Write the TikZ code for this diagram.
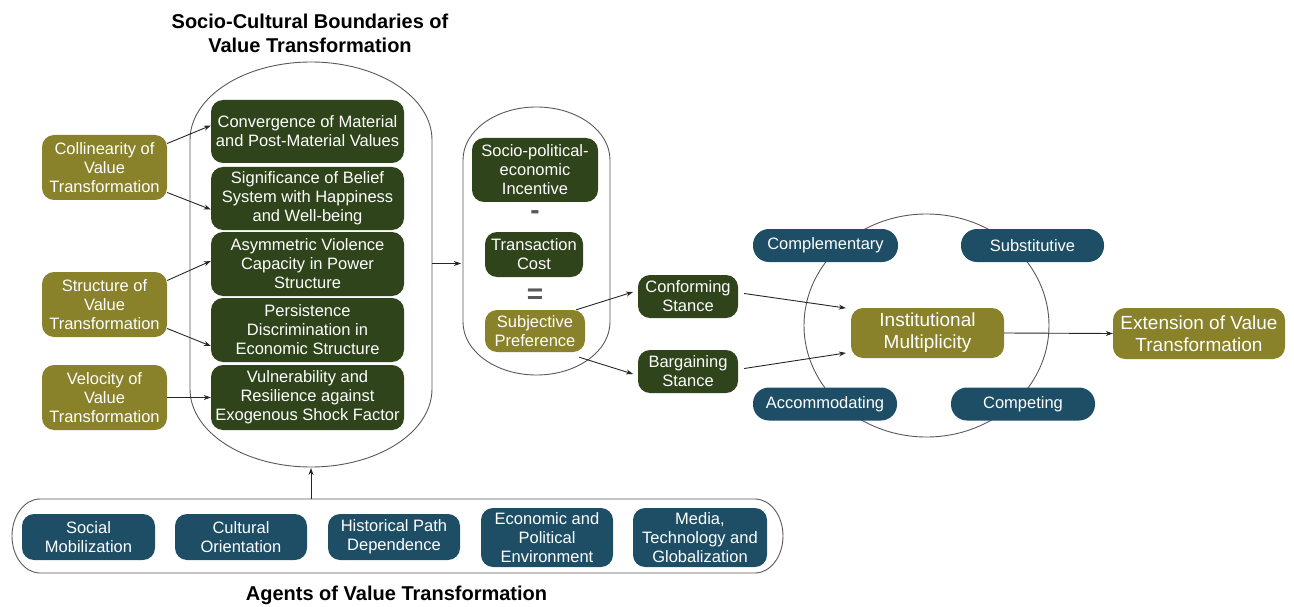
\documentclass[tikz,border=0pt]{standalone}
\usepackage{fontspec}
\setmainfont{Liberation Sans}
\usetikzlibrary{arrows.meta}
\definecolor{dgreen}{RGB}{47,68,26}
\definecolor{olivebox}{RGB}{138,130,42}
\definecolor{dblue}{RGB}{29,78,102}
\begin{document}
\begin{tikzpicture}[x=1pt,y=-1pt,
  box/.style={rounded corners=12pt, text=white, align=center, inner sep=2pt,
    font=\fontsize{16.5}{19}\selectfont},
  gbox/.style={box, fill=dgreen},
  obox/.style={box, fill=olivebox},
  bbox/.style={box, fill=dblue},
  pill/.style={bbox, rounded corners=16pt, minimum height=33pt},
  bigtext/.style={font=\fontsize{19}{22}\selectfont},
  capsule/.style={draw=black!65, line width=0.9pt},
  ghost/.style={inner sep=0pt, outer sep=0pt},
  arr/.style={-{Stealth[length=7pt,width=5pt]}, line width=0.9pt, draw=black!85},
  title/.style={font=\bfseries\fontsize{20}{23.5}\selectfont, align=center},
  sym/.style={font=\bfseries\fontsize{28}{28}\selectfont, text=black!65, inner sep=0pt},
]
\useasboundingbox (0,0) rectangle (1294,607);

% outlines
\draw[capsule] (190,140) arc[start angle=180,end angle=360,x radius=121,y radius=78]
  -- (432,389) arc[start angle=0,end angle=180,x radius=121,y radius=78] -- cycle;
\node[ghost, minimum width=242pt, minimum height=405pt] (capL) at (311,264.5) {};

\draw[capsule] (463,160) arc[start angle=180,end angle=360,x radius=73.5,y radius=53]
  -- (610,322) arc[start angle=0,end angle=180,x radius=73.5,y radius=53] -- cycle;
\node[ghost, minimum width=147pt, minimum height=268pt] (capM) at (536.5,241) {};

\draw[capsule] (926.5,325.5) ellipse [x radius=122.5, y radius=111.5];

\draw[capsule] (40,499) -- (755,499) arc[start angle=270,end angle=450,x radius=28,y radius=37]
  -- (40,573) arc[start angle=90,end angle=270,x radius=28,y radius=37] -- cycle;
\node[ghost, minimum width=771pt, minimum height=74pt] (capB) at (397.5,536) {};

% titles
\node[title] (ttop) at (310,33.5) {Socio-Cultural Boundaries of\\Value Transformation};
\node[title] (tbot) at (396.5,595) {Agents of Value Transformation};

% left olive boxes
\node[obox, minimum width=125pt, minimum height=65pt] (coll) at (104.5,167.5) {Collinearity of\\Value\\Transformation};
\node[obox, minimum width=125pt, minimum height=65pt] (struc) at (104.5,304.5) {Structure of\\Value\\Transformation};
\node[obox, minimum width=125pt, minimum height=65pt] (velo) at (104.5,397.5) {Velocity of\\Value\\Transformation};

% green boxes in left capsule
\node[gbox, minimum width=193pt, minimum height=63pt] (g1) at (307.5,131.5) {Convergence of Material\\and Post-Material Values};
\node[gbox, minimum width=193pt, minimum height=63pt] (g2) at (307.5,198.5) {Significance of Belief\\System with Happiness\\and Well-being};
\node[gbox, minimum width=193pt, minimum height=64pt] (g3) at (307.5,264) {Asymmetric Violence\\Capacity in Power\\Structure};
\node[gbox, minimum width=193pt, minimum height=64pt] (g4) at (307.5,330) {Persistence\\Discrimination in\\Economic Structure};
\node[gbox, minimum width=193pt, minimum height=65pt] (g5) at (307.5,397.5) {Vulnerability and\\Resilience against\\Exogenous Shock Factor};

% middle capsule
\node[gbox, minimum width=126pt, minimum height=64pt] (inc) at (535,170) {Socio-political-\\economic\\Incentive};
\node[sym] (minus) at (535,215) {-};
\node[gbox, minimum width=98pt, minimum height=45pt] (trans) at (534,254.5) {Transaction\\Cost};
\node[sym] (eq) at (535,296) {=};
\node[obox, minimum width=100pt, minimum height=42pt] (subj) at (535,331) {Subjective\\Preference};

% stances
\node[gbox, minimum width=100pt, minimum height=43pt] (conf) at (688,296.5) {Conforming\\Stance};
\node[gbox, minimum width=100pt, minimum height=43pt] (barg) at (688,371.5) {Bargaining\\Stance};

% right cluster
\node[pill, minimum width=145pt] (comp) at (825.5,245.5) {Complementary};
\node[pill, minimum width=143pt] (subs) at (1032.5,245.5) {Substitutive};
\node[pill, minimum width=144pt] (acc) at (825,404) {Accommodating};
\node[pill, minimum width=144pt] (cmpt) at (1023,404) {Competing};
\node[obox, bigtext, minimum width=153pt, minimum height=50pt] (inst) at (927.5,333) {Institutional\\Multiplicity};
\node[obox, bigtext, minimum width=172pt, minimum height=51pt] (ext) at (1199,333.5) {Extension of Value\\Transformation};

% agents
\node[bbox, minimum width=133pt, minimum height=46pt] (soc) at (88.5,537) {Social\\Mobilization};
\node[bbox, minimum width=132pt, minimum height=46pt] (cult) at (241,537) {Cultural\\Orientation};
\node[bbox, minimum width=132pt, minimum height=46pt] (hist) at (394,537) {Historical Path\\Dependence};
\node[bbox, minimum width=132pt, minimum height=59pt, inner sep=1pt] (econ) at (547,537.5) {Economic and\\Political\\Environment};
\node[bbox, minimum width=134pt, minimum height=59pt, inner sep=1pt] (media) at (700,537.5) {Media,\\Technology and\\Globalization};

% arrows
\draw[arr] ([yshift=24pt]coll.east) -- ([yshift=6pt]g1.west);
\draw[arr] ([yshift=-25pt]coll.east) -- ([yshift=-11pt]g2.west);
\draw[arr] ([yshift=24pt]struc.east) -- ([yshift=3pt]g3.west);
\draw[arr] ([yshift=-24pt]struc.east) -- ([yshift=-16pt]g4.west);
\draw[arr] (velo.east) -- (g5.west);
\draw[arr, shorten >=2pt] ([yshift=1pt]capL.east) -- ([yshift=1pt]capL.east -| capM.west);
\draw[arr, shorten >=1pt] (capB.north -| capL.south) -- (capL.south);
\draw[arr, shorten >=5pt] ([xshift=-9pt]subj.north east) -- ([yshift=6pt]conf.west);
\draw[arr, shorten >=5pt] ([xshift=-6pt,yshift=-5pt]subj.south east) -- ([yshift=-4pt]barg.west);
\draw[arr, shorten >=5pt] ([xshift=6pt,yshift=3pt]conf.east) -- ([yshift=-1pt]inst.north west);
\draw[arr, shorten >=5pt] ([xshift=6pt,yshift=3pt]barg.east) -- ([yshift=6pt]inst.south west);
\draw[arr] (inst.east) -- (ext.west);
\end{tikzpicture}
\end{document}
